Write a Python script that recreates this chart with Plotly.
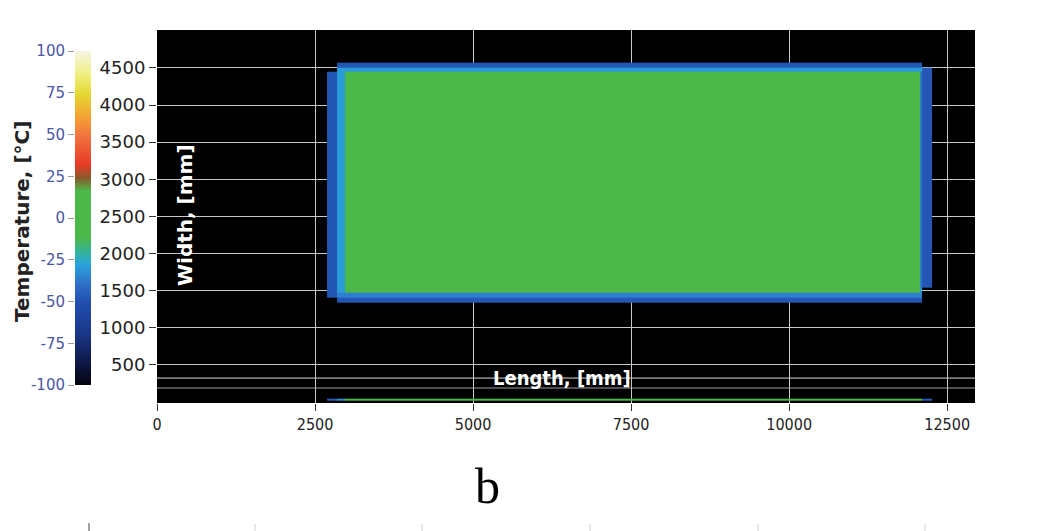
import numpy as np
import plotly.graph_objects as go

# plate temperature map, cell edges in mm and temperatures in degC
x_edges = [2690, 2850, 2975, 12070, 12105, 12265]
y_edges = [14, 41, 1335, 1400, 1470, 1536, 4450, 4500, 4570]
nan = np.nan
temp = [
    [-46, -32, 5, 5, -46],        # side-view strip along the bottom
    [nan, nan, nan, nan, nan],
    [nan, -48, -48, -48, nan],    # bottom edge
    [-48, -36, -36, -36, nan],
    [-48, -30, 5, -30, nan],
    [-48, -30, 5, -38, -48],      # body
    [nan, -30, -30, -30, -48],    # top edge
    [nan, -48, -48, -48, nan],
]

x_ticks = [0, 2500, 5000, 7500, 10000, 12500]
x_labels = ['0', '2500', '5000', '7500', '10000', '12500']
y_ticks = [500, 1000, 1500, 2000, 2500, 3000, 3500, 4000, 4500]
cbar_ticks = [-100, -75, -50, -25, 0, 25, 50, 75, 100]
cbar_labels = ['-100', '-75', '-50', '-25', '0', '25', '50', '75', '100']
extra_lines_mm = [323, 189]
extra_line_colors = ['#d8d8d8', '#a0a0a8']

temp_scale = [
    [0.00, '#05040f'], [0.06, '#0d1540'], [0.15, '#1a3585'],
    [0.25, '#2150b0'], [0.30, '#2f6fc8'], [0.36, '#2aa2dc'],
    [0.40, '#36b396'], [0.44, '#4cb84a'], [0.58, '#4cb84a'],
    [0.62, '#8a5a2c'], [0.66, '#e83a25'], [0.74, '#f07040'],
    [0.80, '#f5a035'], [0.87, '#e5d830'], [0.93, '#efef80'],
    [1.00, '#f7f5e6'],
]

# the page body adds an 8px offset; figure is sized to fit the window
OFF = 8
W, H = 1042 - OFF, 531 - OFF
ML, MR, MT, MB = 0, 67, 22, 128
PW, PH = W - ML - MR, H - MT - MB


def px_x(px):
    # reference-screen pixel -> paper fraction
    return (px - OFF - ML) / PW


def px_y(py):
    return (H - MB - (py - OFF)) / PH


fig = go.Figure()
fig.add_trace(go.Heatmap(
    x=x_edges, y=y_edges, z=temp,
    zmin=-100, zmax=100, colorscale=temp_scale,
    hoverongaps=False,
    colorbar=dict(
        x=px_x(75), xanchor='left', thickness=16,
        y=px_y(385), yanchor='bottom', len=px_y(51) - px_y(385),
        lenmode='fraction', xpad=0, ypad=0, outlinewidth=0,
        showticklabels=False, ticks='',
    ),
))
# invisible trace that carries the colorbar tick axis
fig.add_trace(go.Scatter(x=[None], y=[None], xaxis='x2', yaxis='y2',
                         showlegend=False, hoverinfo='skip'))

for val, col in zip(extra_lines_mm, extra_line_colors):
    fig.add_hline(y=val, line_color=col, line_width=1, layer='below')

# top of the next panel peeking in at the bottom
for px in [255, 422, 590, 758, 925]:
    fig.add_shape(type='line', xref='paper', yref='paper',
                  x0=px_x(px), x1=px_x(px), y0=px_y(524), y1=px_y(531),
                  line=dict(color='#d0d0d0', width=1))
fig.add_shape(type='line', xref='paper', yref='paper',
              x0=px_x(89), x1=px_x(89), y0=px_y(523), y1=px_y(531),
              line=dict(color='#444', width=1))

fig.update_layout(
    template='none',
    width=W, height=H,
    margin=dict(l=ML, r=MR, t=MT, b=MB, autoexpand=False),
    paper_bgcolor='white', plot_bgcolor='black',
    showlegend=False,
    xaxis=dict(
        domain=[px_x(157), 1], range=[0, 12940], automargin=False,
        tickvals=x_ticks, ticktext=x_labels,
        ticks='outside', ticklen=7, tickcolor='#333',
        showgrid=True, gridcolor='#c8c8c8', gridwidth=1, zeroline=False,
        tickfont=dict(family='DejaVu Sans Condensed, Roboto', size=16, color='#222'),
        showline=False,
    ),
    yaxis=dict(
        range=[-13, 5010], tickvals=y_ticks, automargin=False,
        ticks='outside', ticklen=7, tickcolor='#333',
        showgrid=True, gridcolor='#c8c8c8', gridwidth=1, zeroline=False,
        tickfont=dict(family='DejaVu Sans', size=18, color='#222'),
        showline=False,
    ),
    xaxis2=dict(domain=[px_x(75), px_x(76)], visible=False, range=[0, 1]),
    yaxis2=dict(
        anchor='x2', domain=[px_y(385), px_y(51)], range=[-100, 100],
        automargin=False,
        tickvals=cbar_ticks, ticktext=cbar_labels, side='left',
        ticks='outside', ticklen=6,
        tickcolor='#999', showgrid=False, zeroline=False, showline=False,
        tickfont=dict(family='DejaVu Sans', size=15, color='#4a56a6'),
    ),
    annotations=[
        dict(text='<b>Temperature, [°C]</b>', x=px_x(22), y=px_y(222),
             xref='paper', yref='paper', textangle=-90, showarrow=False,
             font=dict(family='DejaVu Sans', size=20, color='#222'),
             xanchor='center', yanchor='middle'),
        dict(text='<b>Width, [mm]</b>', x=px_x(185), y=px_y(215),
             xref='paper', yref='paper', textangle=-90, showarrow=False,
             font=dict(family='DejaVu Sans', size=20, color='white'),
             xanchor='center', yanchor='middle'),
        dict(text='<b>Length, [mm]</b>', x=px_x(562), y=px_y(378),
             xref='paper', yref='paper', showarrow=False,
             font=dict(family='DejaVu Sans Condensed, Roboto', size=20, color='white'),
             xanchor='center', yanchor='middle'),
        dict(text='b', x=px_x(487), y=px_y(486),
             xref='paper', yref='paper', showarrow=False,
             font=dict(family='Liberation Serif', size=50, color='black'),
             xanchor='center', yanchor='middle'),
    ],
)

fig.write_html('out.html')
